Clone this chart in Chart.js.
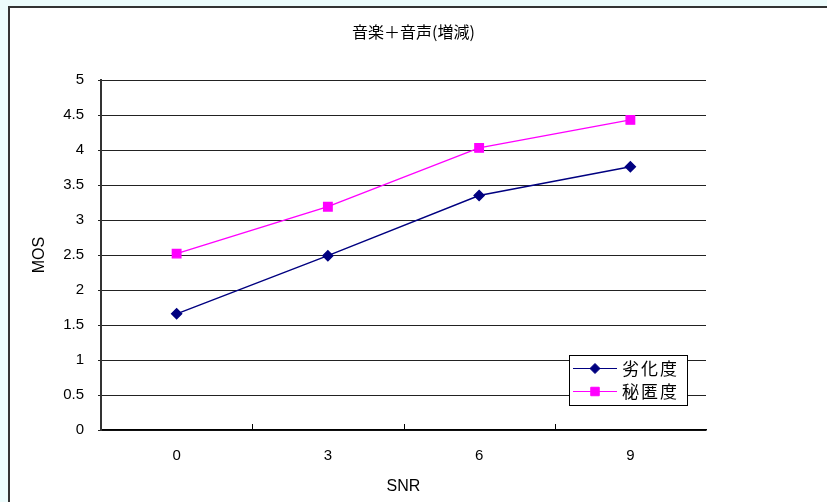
<html>
<head>
  <meta charset="utf-8">
  <title>音楽＋音声(増減)</title>
  <style>
    body { margin: 0; background: #ecfcfc; }
  </style>
</head>
<body>

<canvas id="mos" width="827" height="502"></canvas>

<script src="https://cdn.jsdelivr.net/npm/chart.js@4/dist/chart.umd.min.js"></script>
<script>

const chartTitle = '音楽＋音声(増減)';
const snr = ['0', '3', '6', '9'];
const degradation = [1.66, 2.49, 3.35, 3.76];   // 劣化度
const secrecy = [2.52, 3.19, 4.03, 4.43];       // 秘匿度
const yTicks = [0, 0.5, 1, 1.5, 2, 2.5, 3, 3.5, 4, 4.5, 5];

const FONT = "'Liberation Sans', Arial, sans-serif";
const CJK = "'Noto Sans CJK JP', sans-serif";

// white sheet with a dark frame on the left and top edges, title centred on it
const framePlugin = {
  id: 'frame',
  beforeDraw(chart) {
    const ctx = chart.ctx;
    ctx.save();
    ctx.fillStyle = '#ecfcfc';
    ctx.fillRect(0, 0, chart.width, chart.height);
    ctx.fillStyle = '#ffffff';
    ctx.fillRect(9, 7, chart.width, chart.height);
    ctx.strokeStyle = '#333';
    ctx.lineWidth = 2;
    ctx.beginPath();
    ctx.moveTo(9, chart.height);
    ctx.lineTo(9, 7);
    ctx.lineTo(chart.width, 7);
    ctx.stroke();

    ctx.fillStyle = '#000';
    ctx.font = '16px ' + CJK;
    ctx.textAlign = 'center';
    ctx.textBaseline = 'middle';
    ctx.fillText(chartTitle, chart.width / 2, 32);
    ctx.restore();
  }
};

// short upward tick marks between categories, plus the boxed legend
const extrasPlugin = {
  id: 'extras',
  afterDatasetsDraw(chart) {
    const ctx = chart.ctx;
    const x = chart.scales.x;
    const area = chart.chartArea;
    ctx.save();
    ctx.strokeStyle = '#000';
    ctx.lineWidth = 1;
    ctx.beginPath();
    for (let i = 0; i < snr.length - 1; i++) {
      const px = Math.round((x.getPixelForTick(i) + x.getPixelForTick(i + 1)) / 2) + 0.5;
      ctx.moveTo(px, area.bottom);
      ctx.lineTo(px, area.bottom - 6);
    }
    ctx.stroke();

    // legend box
    const bx = area.right - 137, by = area.bottom - 75, bw = 118, bh = 50;
    ctx.fillStyle = '#fff';
    ctx.fillRect(bx, by, bw, bh);
    ctx.strokeStyle = '#000';
    ctx.strokeRect(bx + 0.5, by + 0.5, bw, bh);
    chart.data.datasets.forEach((ds, i) => {
      const cy = by + 13 + i * 23;
      ctx.strokeStyle = ds.borderColor;
      ctx.lineWidth = 1;
      ctx.beginPath();
      ctx.moveTo(bx + 4, cy + 0.5);
      ctx.lineTo(bx + 48, cy + 0.5);
      ctx.stroke();
      ctx.fillStyle = ds.pointBackgroundColor;
      ctx.strokeStyle = ds.pointBorderColor;
      Chart.helpers.drawPoint(ctx, {
        pointStyle: ds.pointStyle,
        radius: ds.pointRadius,
        borderWidth: 1
      }, bx + 26, cy + 0.5);
      ctx.fillStyle = '#000';
      ctx.font = '17px ' + CJK;
      ctx.letterSpacing = '2px';
      ctx.textBaseline = 'middle';
      ctx.fillText(ds.label, bx + 53, cy + 1);
      ctx.letterSpacing = '0px';
    });
    ctx.restore();
  }
};

const ctx = document.getElementById('mos');

new Chart(ctx, {
  type: 'line',
  data: {
    labels: snr,
    datasets: [
      {
        label: '劣化度',
        data: degradation,
        borderColor: '#000080',
        backgroundColor: '#000080',
        pointBackgroundColor: '#000080',
        pointBorderColor: '#000080',
        pointStyle: 'rectRot',
        pointRadius: 5,
        borderWidth: 1.4,
      },
      {
        label: '秘匿度',
        data: secrecy,
        borderColor: '#ff00ff',
        backgroundColor: '#ff00ff',
        pointBackgroundColor: '#ff00ff',
        pointBorderColor: '#ff00ff',
        pointStyle: 'rect',
        pointRadius: 6,
        borderWidth: 1.4,
      }
    ],
  },
  options: {
    responsive: false,
    animation: false,
    devicePixelRatio: 1,
    layout: { padding: { left: 30, right: 121, top: 80, bottom: 6 } },
    plugins: {
      legend: { display: false },
      tooltip: { enabled: false },
      title: { display: false },
    },
    scales: {
      x: {
        offset: true,
        afterFit(scale) { scale.height = 66; },
        grid: { display: true, drawOnChartArea: false, drawTicks: false, offset: true },
        border: { color: '#000', width: 1.5 },
        ticks: { color: '#000', font: { family: FONT, size: 15 }, padding: 17 },
        title: { display: true, text: 'SNR', color: '#000', font: { family: FONT, size: 16 }, padding: { top: 0, bottom: 0 } },
      },
      y: {
        min: 0,
        max: 5,
        afterBuildTicks(scale) { scale.ticks = yTicks.map(v => ({ value: v })); },
        afterFit(scale) { scale.width = 71; },
        grid: { color: '#222', lineWidth: 1, tickLength: 3 },
        border: { color: '#333', width: 2 },
        ticks: { color: '#000', font: { family: FONT, size: 15 }, padding: 14, callback: v => String(v) },
        title: { display: true, text: 'MOS', color: '#000', font: { family: FONT, size: 16 }, padding: { top: 0, bottom: 0 } },
      }
    }
  },
  plugins: [framePlugin, extrasPlugin]
});

</script>

</body>
</html>
